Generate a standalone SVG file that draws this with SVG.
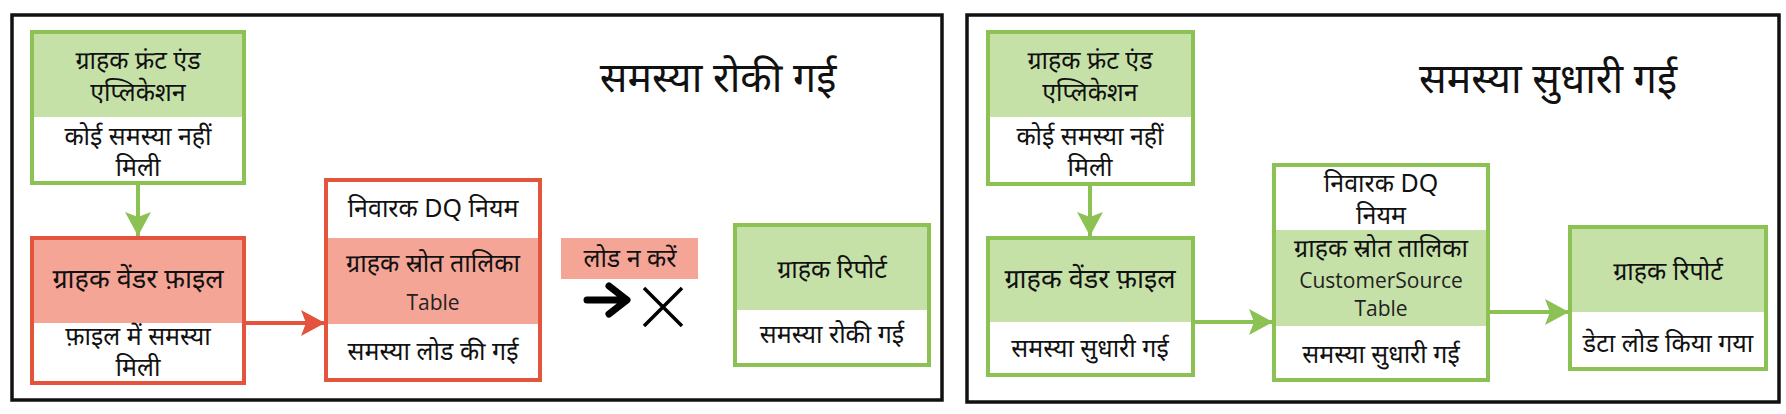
<svg xmlns="http://www.w3.org/2000/svg" width="1786" height="414" viewBox="0 0 1786 414">
<defs>
<style>
.frame{fill:#fff;stroke:#111;stroke-width:3.5}
.gbox{fill:#fff;stroke:#8cc153;stroke-width:4}
.rbox{fill:#fff;stroke:#e4533b;stroke-width:4}
.gfill{fill:#c6e1a8}
.rfill{fill:#f5a596}
.t{font-family:"Noto Sans Devanagari","Noto Sans",sans-serif;font-size:25px;fill:#111;text-anchor:middle}
.big{font-size:27px}
.lat{font-family:"Open Sans","Noto Sans",sans-serif;font-size:21px;fill:#222;text-anchor:middle}
.title{font-family:"Noto Sans Devanagari","Noto Sans",sans-serif;font-size:41px;fill:#111;text-anchor:middle}
.gline{stroke:#8cc153;stroke-width:4;fill:none}
.rline{stroke:#e4533b;stroke-width:4;fill:none}
</style>
<marker id="ga" markerUnits="userSpaceOnUse" markerWidth="26" markerHeight="28" refX="24" refY="14" orient="auto">
<path d="M0,1 L24,14 L0,27 L5,14 Z" fill="#8cc153"/>
</marker>
<marker id="ra" markerUnits="userSpaceOnUse" markerWidth="26" markerHeight="28" refX="24" refY="14" orient="auto">
<path d="M0,1 L24,14 L0,27 L5,14 Z" fill="#e4533b"/>
</marker>
</defs>

<g id="panel-left">
<rect class="frame" x="12" y="15" width="930" height="385"/>
<text class="title" x="718" y="92">समस्या रोकी गई</text>
</g>
<g id="panel-right">
<rect class="frame" x="967" y="15" width="812" height="387"/>
<text class="title" x="1548" y="93">समस्या सुधारी गई</text>
</g>

<g id="l-frontend">
<rect class="gbox" x="32" y="32" width="212" height="151"/>
<rect class="gfill" x="34" y="34" width="208" height="83"/>
<text class="t" x="138" y="69">ग्राहक फ्रंट एंड</text>
<text class="t" x="138" y="101">एप्लिकेशन</text>
<text class="t" x="138" y="145">कोई समस्या नहीं</text>
<text class="t" x="138" y="176">मिली</text>
</g>
<g id="l-vendor">
<rect class="rbox" x="32" y="238" width="212" height="145"/>
<rect class="rfill" x="34" y="240" width="208" height="83"/>
<text class="t big" x="138" y="288">ग्राहक वेंडर फ़ाइल</text>
<text class="t" x="138" y="345">फ़ाइल में समस्या</text>
<text class="t" x="138" y="376">मिली</text>
</g>
<g id="l-source">
<rect class="rbox" x="326" y="180" width="214" height="200"/>
<rect class="rfill" x="328" y="238" width="210" height="86"/>
<text class="t" x="433" y="217">निवारक DQ नियम</text>
<text class="t" x="433" y="272">ग्राहक स्रोत तालिका</text>
<text class="lat" x="433" y="310">Table</text>
<text class="t" x="433" y="360">समस्या लोड की गई</text>
</g>
<g id="l-noload">
<rect class="rfill" x="561" y="238" width="137" height="41"/>
<text class="t" x="630" y="267">लोड न करें</text>
<path d="M587,300 H626 M609,286 L627,300 L609,314" fill="none" stroke="#000" stroke-width="7" stroke-linecap="round" stroke-linejoin="round"/>
<path d="M644,288 L682,326 M682,288 L644,326" fill="none" stroke="#000" stroke-width="3.5"/>
</g>
<g id="l-report">
<rect class="gbox" x="735" y="225" width="194" height="140"/>
<rect class="gfill" x="737" y="227" width="190" height="83"/>
<text class="t" x="832" y="278">ग्राहक रिपोर्ट</text>
<text class="t" x="832" y="343">समस्या रोकी गई</text>
</g>

<g id="r-frontend">
<rect class="gbox" x="988" y="32" width="205" height="152"/>
<rect class="gfill" x="990" y="34" width="201" height="83"/>
<text class="t" x="1090" y="69">ग्राहक फ्रंट एंड</text>
<text class="t" x="1090" y="101">एप्लिकेशन</text>
<text class="t" x="1090" y="145">कोई समस्या नहीं</text>
<text class="t" x="1090" y="176">मिली</text>
</g>
<g id="r-vendor">
<rect class="gbox" x="988" y="238" width="205" height="137"/>
<rect class="gfill" x="990" y="240" width="201" height="82"/>
<text class="t big" x="1090" y="288">ग्राहक वेंडर फ़ाइल</text>
<text class="t" x="1090" y="357">समस्या सुधारी गई</text>
</g>
<g id="r-source">
<rect class="gbox" x="1274" y="165" width="214" height="215"/>
<rect class="gfill" x="1276" y="230" width="210" height="96"/>
<text class="t" x="1381" y="192">निवारक DQ</text>
<text class="t" x="1381" y="224">नियम</text>
<text class="t" x="1381" y="257">ग्राहक स्रोत तालिका</text>
<text class="lat" x="1381" y="288">CustomerSource</text>
<text class="lat" x="1381" y="316">Table</text>
<text class="t" x="1381" y="363">समस्या सुधारी गई</text>
</g>
<g id="r-report">
<rect class="gbox" x="1570" y="227" width="196" height="142"/>
<rect class="gfill" x="1572" y="229" width="192" height="83"/>
<text class="t" x="1668" y="280">ग्राहक रिपोर्ट</text>
<text class="t" x="1668" y="352">डेटा लोड किया गया</text>
</g>

<g id="connectors">
<line class="gline" x1="138" y1="185" x2="138" y2="236" marker-end="url(#ga)"/>
<line class="rline" x1="246" y1="323" x2="325" y2="323" marker-end="url(#ra)"/>
<line class="gline" x1="1090" y1="186" x2="1090" y2="236" marker-end="url(#ga)"/>
<line class="gline" x1="1195" y1="322" x2="1273" y2="322" marker-end="url(#ga)"/>
<line class="gline" x1="1490" y1="312" x2="1569" y2="312" marker-end="url(#ga)"/>
</g>
</svg>
